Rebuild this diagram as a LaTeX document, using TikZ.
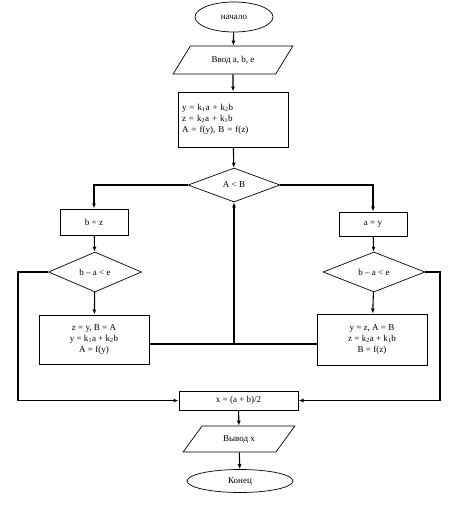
\documentclass[tikz,border=0pt]{standalone}
\usepackage{fontspec}
\setmainfont{Liberation Serif}
\usetikzlibrary{shapes.geometric,arrows.meta,positioning}

\begin{document}
\begin{tikzpicture}[x=1pt,y=-1pt,
  every node/.style={font=\small,inner sep=1pt},
  blok/.style={draw,line width=1pt,align=center},
  oval/.style={draw,ellipse,line width=0.7pt},
  romb/.style={draw,diamond,line width=0.7pt,inner sep=0pt},
  paral/.style={draw,trapezium,trapezium left angle=48,trapezium right angle=132,
    trapezium stretches=true,line width=0.7pt},
  svyaz/.style={line width=1.1pt,-{Latex[length=5pt,width=4pt]}},
  liniya/.style={line width=1.1pt}]
  \useasboundingbox (0,0) rectangle (456,506);
  \node[oval,minimum width=78pt,minimum height=30pt] (nachalo) at (234,17) {начало};
  \node[paral,minimum width=120pt,minimum height=28pt] (vvod) at (233,60) {Ввод a, b, e};
  \node[blok,align=left,minimum width=110pt,minimum height=55pt,text width=102pt] (formuly) at (233,119.5)
    {y = k\textsubscript{1}a + k\textsubscript{2}b\\z = k\textsubscript{2}a + k\textsubscript{1}b\\A = f(y), B = f(z)};
  \node[romb,minimum width=92pt,minimum height=34pt] (uslovie) at (234,185) {A < B};
  \node[blok,minimum width=68pt,minimum height=26pt] (bz) at (94,222) {b = z};
  \node[romb,minimum width=93pt,minimum height=40pt] (usl1) at (95,272) {b -- a < e};
  \node[blok,minimum width=110pt,minimum height=49pt] (blokL) at (94,339.5)
    {z = y, B = A\\y = k\textsubscript{1}a + k\textsubscript{2}b\\A = f(y)};
  \node[blok,minimum width=68pt,minimum height=24pt] (ay) at (373,224) {a = y};
  \node[romb,minimum width=102pt,minimum height=40pt] (usl2) at (374,272) {b -- a < e};
  \node[blok,minimum width=110pt,minimum height=51pt] (blokR) at (372,339.5)
    {y = z, A = B\\z = k\textsubscript{2}a + k\textsubscript{1}b\\B = f(z)};
  \node[blok,minimum width=119pt,minimum height=19pt] (itog) at (238.5,400.5) {x = (a + b)/2};
  \node[paral,minimum width=112pt,minimum height=26pt] (vyvod) at (239,439) {Вывод x};
  \node[oval,minimum width=106pt,minimum height=23pt] (konec) at (240,481) {Конец};

  \coordinate (vozvrat) at (234,344);
  \draw[svyaz] (nachalo) -- (vvod);
  \draw[svyaz] (vvod) -- (formuly);
  \draw[svyaz] (formuly) -- (uslovie);
  \draw[svyaz] (uslovie.west) -| (bz.north);
  \draw[svyaz] (uslovie.east) -| (ay.north);
  \draw[svyaz] (bz) -- (usl1);
  \draw[svyaz] (ay) -- (usl2);
  \draw[svyaz] (usl1) -- (blokL);
  \draw[svyaz] (usl2) -- (blokR);
  \draw[liniya] (blokL.east |- vozvrat) -- (vozvrat) -- (blokR.west |- vozvrat);
  \draw[svyaz] (vozvrat) -- (uslovie.south);
  \draw[svyaz] (usl1.west) -- (18,272) |- (itog.west);
  \draw[svyaz] (usl2.east) -- (440,272) |- (itog.east);
  \draw[svyaz] (itog) -- (vyvod);
  \draw[svyaz] (vyvod) -- (konec);
\end{tikzpicture}
\end{document}
